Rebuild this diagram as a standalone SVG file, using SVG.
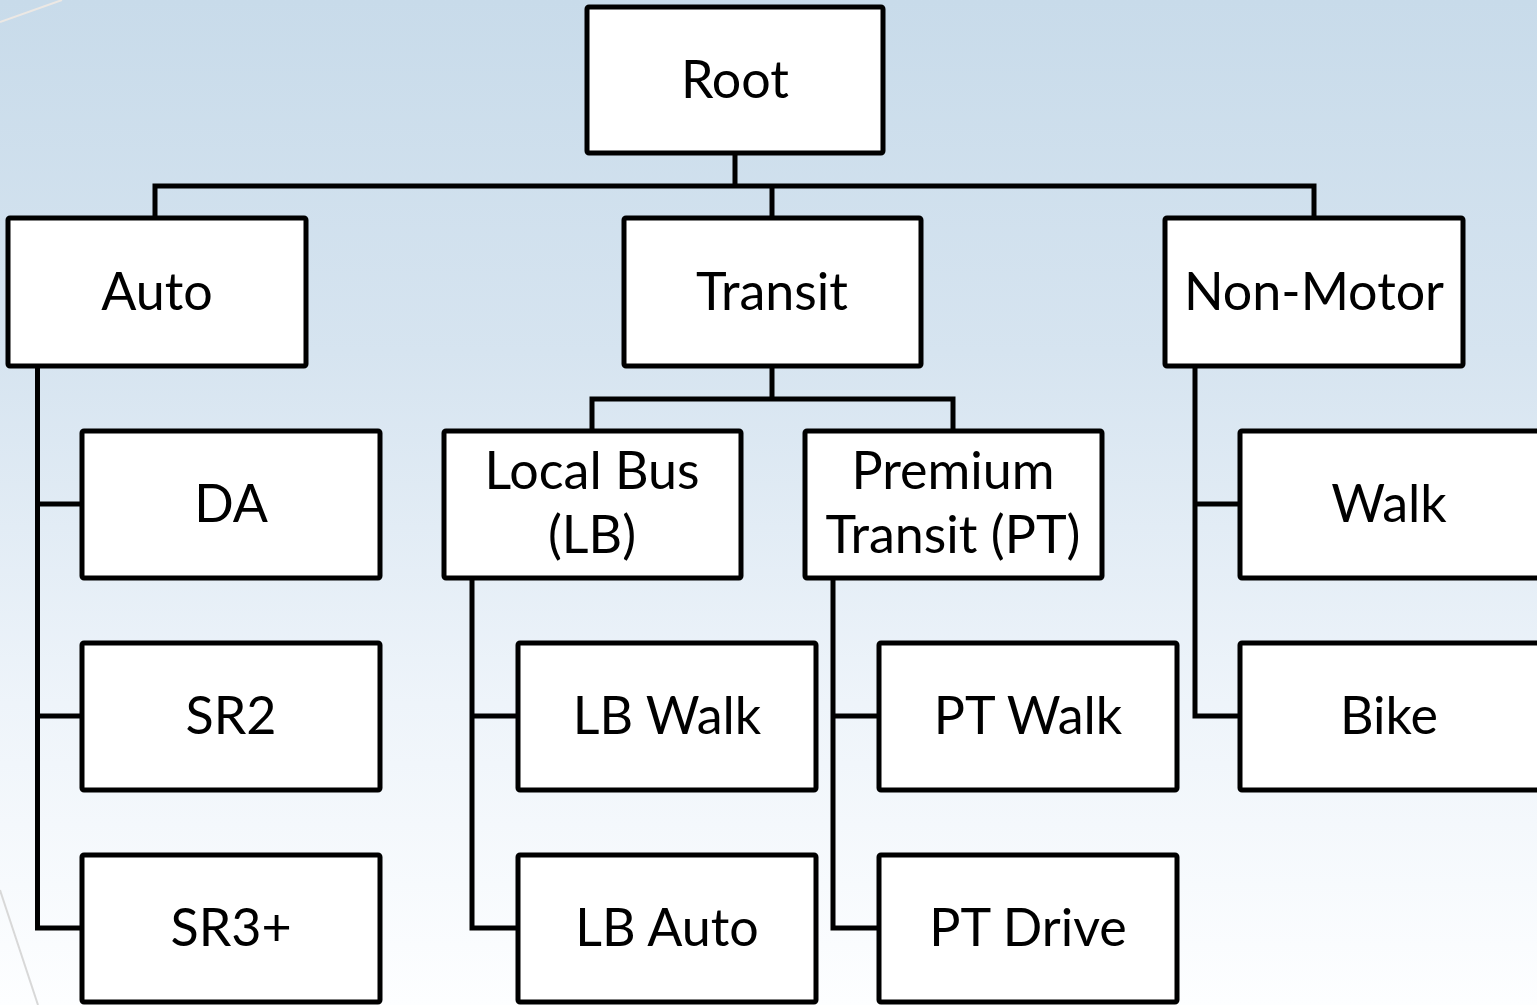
<svg xmlns="http://www.w3.org/2000/svg" width="1537" height="1005" viewBox="0 0 1537 1005">
  <defs>
    <linearGradient id="bg" x1="0" y1="0" x2="0" y2="1">
      <stop offset="0" stop-color="#c8dbea"/>
      <stop offset="0.35" stop-color="#d6e4f0"/>
      <stop offset="0.7" stop-color="#eef4fa"/>
      <stop offset="1" stop-color="#fdfeff"/>
    </linearGradient>
    <style>
      .box { fill: #ffffff; stroke: #000000; stroke-width: 5; stroke-linejoin: round; }
      .wire { fill: none; stroke: #000000; stroke-width: 5; stroke-linejoin: miter; }
      .label { font-family: Lato, "Open Sans", "Liberation Sans", sans-serif; font-size: 52px; fill: #000000; text-anchor: middle; }
    </style>
  </defs>

  <!-- backdrop -->
  <rect x="0" y="0" width="1537" height="1005" fill="url(#bg)"/>
  <line x1="0" y1="22" x2="62" y2="0" stroke="#ece8e4" stroke-width="2"/>
  <line x1="0" y1="890" x2="38" y2="1005" stroke="#d8d8d8" stroke-width="2"/>

  <!-- tree connectors -->
  <g id="connectors">
    <path class="wire" d="M735 155 V186 M155 218 V186 H1314 V218 M772 186 V218"/>
    <path class="wire" d="M772 367 V399 M592 429 V399 H953 V429"/>
    <path class="wire" d="M37.5 366 V928 H80 M37.5 504 H80 M37.5 716 H80"/>
    <path class="wire" d="M472 578 V928 H516 M472 716 H516"/>
    <path class="wire" d="M833 578 V928 H877 M833 716 H877"/>
    <path class="wire" d="M1195 366 V716 H1238 M1195 504 H1238"/>
  </g>

  <g id="root">
    <rect class="box" x="587" y="7" width="296" height="146" rx="2"/>
    <text class="label" x="735" y="98">Root</text>
  </g>

  <g id="auto">
    <rect class="box" x="8" y="218" width="298" height="148" rx="2"/>
    <text class="label" x="157" y="310">Auto</text>
  </g>
  <g id="transit">
    <rect class="box" x="624" y="218" width="297" height="148" rx="2"/>
    <text class="label" x="772" y="310">Transit</text>
  </g>
  <g id="non-motor">
    <rect class="box" x="1165" y="218" width="298" height="148" rx="2"/>
    <text class="label" x="1314" y="310">Non-Motor</text>
  </g>

  <g id="da">
    <rect class="box" x="82" y="431" width="298" height="147" rx="2"/>
    <text class="label" x="231" y="522">DA</text>
  </g>
  <g id="local-bus">
    <rect class="box" x="444" y="431" width="297" height="147" rx="2"/>
    <text class="label" x="592" y="489">Local Bus</text>
    <text class="label" x="592" y="553">(LB)</text>
  </g>
  <g id="premium-transit">
    <rect class="box" x="805" y="431" width="297" height="147" rx="2"/>
    <text class="label" x="953" y="489">Premium</text>
    <text class="label" x="953" y="553">Transit (PT)</text>
  </g>
  <g id="walk">
    <rect class="box" x="1240" y="431" width="300" height="147" rx="2"/>
    <text class="label" x="1389" y="522">Walk</text>
  </g>

  <g id="sr2">
    <rect class="box" x="82" y="643" width="298" height="147" rx="2"/>
    <text class="label" x="231" y="734">SR2</text>
  </g>
  <g id="lb-walk">
    <rect class="box" x="518" y="643" width="298" height="147" rx="2"/>
    <text class="label" x="667" y="734">LB Walk</text>
  </g>
  <g id="pt-walk">
    <rect class="box" x="879" y="643" width="298" height="147" rx="2"/>
    <text class="label" x="1028" y="734">PT Walk</text>
  </g>
  <g id="bike">
    <rect class="box" x="1240" y="643" width="300" height="147" rx="2"/>
    <text class="label" x="1389" y="734">Bike</text>
  </g>

  <g id="sr3plus">
    <rect class="box" x="82" y="855" width="298" height="147" rx="2"/>
    <text class="label" x="231" y="946">SR3+</text>
  </g>
  <g id="lb-auto">
    <rect class="box" x="518" y="855" width="298" height="147" rx="2"/>
    <text class="label" x="667" y="946">LB Auto</text>
  </g>
  <g id="pt-drive">
    <rect class="box" x="879" y="855" width="298" height="147" rx="2"/>
    <text class="label" x="1028" y="946">PT Drive</text>
  </g>
</svg>
